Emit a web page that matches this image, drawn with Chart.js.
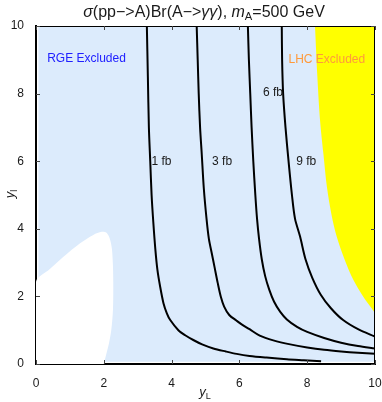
<!DOCTYPE html>
<html>
<head>
<meta charset="utf-8">
<script src="https://cdn.jsdelivr.net/npm/chart.js@4.4.0/dist/chart.umd.min.js"></script>
<style>
  body { margin: 0; background: #fff; }
  #wrap { position: relative; width: 382px; height: 402px; font-family: "Liberation Sans", Arial, sans-serif; color: #1a1a1a; }
  #plot { position: absolute; left: 0; top: 0; }
  .title { position: absolute; left: 26px; width: 356px; top: 2px; text-align: center; font-size: 16px; line-height: 19px; white-space: nowrap; }
  .xlab { position: absolute; left: 180px; width: 50px; top: 384px; text-align: center; font-size: 13px; line-height: 16px; }
  .ylab { position: absolute; left: -15px; top: 186px; width: 50px; text-align: center; font-size: 13px; line-height: 16px; transform: rotate(-90deg); }
  sub { font-size: 70%; vertical-align: -0.3em; line-height: 0; }
</style>
</head>
<body>
<div id="wrap">
  <canvas id="plot" width="382" height="402"></canvas>
  <div class="title"><i>σ</i>(pp−&gt;A)Br(A−&gt;<i>γγ</i>), <i>m</i><sub>A</sub>=500 GeV</div>
  <div class="xlab"><i>y</i><sub>L</sub></div>
  <div class="ylab"><i>y</i><sub>l</sub></div>
</div>
<script>
// axis ticks
const tickValues = [0, 2, 4, 6, 8, 10];

// contour lines (yL, yl)
const fb1X = [3.27, 3.30, 3.33, 3.37, 3.41, 3.46, 3.52, 3.58, 3.66, 3.76, 3.86, 3.96, 4.20, 4.40, 4.64, 4.90, 5.23, 5.60, 5.92, 6.30, 6.80, 7.40, 7.90, 8.41];
const fb1Y = [10, 8.5, 7.0, 6.0, 5.0, 4.2, 3.4, 2.8, 2.3, 1.8, 1.5, 1.3, 1.0, 0.85, 0.71, 0.58, 0.46, 0.37, 0.30, 0.24, 0.19, 0.14, 0.11, 0.08];

const fb3X = [4.74, 4.77, 4.80, 4.84, 4.89, 4.95, 5.03, 5.10, 5.18, 5.27, 5.36, 5.45, 5.55, 5.70, 5.92, 6.10, 6.30, 6.60, 7.00, 7.50, 8.00, 8.50, 9.00, 9.50, 10];
const fb3Y = [10, 9, 8, 7, 6.2, 5.2, 4.3, 3.7, 3.3, 2.85, 2.4, 2.0, 1.7, 1.45, 1.28, 1.15, 1.03, 0.84, 0.70, 0.58, 0.49, 0.42, 0.37, 0.33, 0.30];

const fb6X = [6.25, 6.28, 6.32, 6.36, 6.41, 6.47, 6.52, 6.58, 6.66, 6.76, 6.88, 7.02, 7.20, 7.40, 7.70, 8.00, 8.50, 9.00, 9.50, 10];
const fb6Y = [10, 9, 8, 7, 6, 5, 4.3, 3.7, 3.1, 2.6, 2.2, 1.85, 1.55, 1.32, 1.10, 0.95, 0.77, 0.63, 0.53, 0.46];

const fb9X = [7.25, 7.26, 7.29, 7.36, 7.45, 7.55, 7.64, 7.79, 7.95, 8.15, 8.40, 8.70, 9.06, 9.50, 10];
const fb9Y = [10, 9, 8, 7, 6, 5, 4.3, 3.77, 3.1, 2.55, 2.05, 1.65, 1.3, 1.03, 0.81];

const contourLabels = ['1 fb', '3 fb', '6 fb', '9 fb'];
const contourLabelX = [3.70, 5.49, 6.99, 7.97];
const contourLabelY = [6.0, 6.0, 8.02, 5.99];

// LHC excluded boundary (region to the upper right)
const lhcX = [8.23, 8.30, 8.38, 8.48, 8.58, 8.72, 8.87, 9.10, 9.36, 9.65, 9.90, 10];
const lhcY = [10, 8.5, 7.2, 6.2, 5.25, 4.4, 3.77, 3.1, 2.49, 2.0, 1.65, 1.5];

// RGE excluded area and the allowed hole in the lower left
const rgeX = [0.07, 0.07, 10, 10];
const rgeY = [0.07, 10, 10, 0.07];
const holeX = [0, 0, 0.4, 0.81, 1.3, 1.69, 1.94, 2.08, 2.18, 2.24, 2.27, 2.28, 2.27, 2.22, 2.15, 2.08, 2.0];
const holeY = [0, 2.43, 2.8, 3.17, 3.57, 3.82, 3.91, 3.88, 3.7, 3.4, 2.9, 2.3, 1.6, 1.0, 0.6, 0.32, 0];

const regionLabels = ['RGE Excluded', 'LHC Excluded'];
const regionLabelX = [1.49, 8.58];
const regionLabelY = [9.02, 8.99];

const FONT = '"Liberation Sans", Arial, sans-serif';

function pts(xs, ys) {
    return xs.map((x, i) => ({ x: x, y: ys[i] }));
}

function contour(xs, ys) {
    return {
        data: pts(xs, ys),
        borderColor: '#000',
        borderWidth: 2,
        pointRadius: 0,
        tension: 0.3,
        fill: false,
        order: 0
    };
}

function region(xs, ys, color, fill, order, tension) {
    return {
        data: pts(xs, ys),
        borderColor: 'rgba(0,0,0,0)',
        borderWidth: 0,
        backgroundColor: color,
        pointRadius: 0,
        tension: tension,
        fill: fill,
        order: order
    };
}

const decorations = {
    id: 'decorations',
    afterDatasetsDraw(chart) {
        const { ctx, chartArea: a, scales: { x, y } } = chart;
        ctx.save();
        // thin top and right frame
        ctx.strokeStyle = '#000';
        ctx.lineWidth = 1;
        ctx.beginPath();
        ctx.moveTo(a.left, a.top + 0.5);
        ctx.lineTo(a.right, a.top + 0.5);
        ctx.moveTo(a.right - 0.5, a.top);
        ctx.lineTo(a.right - 0.5, a.bottom);
        ctx.stroke();
        // inward tick marks
        ctx.strokeStyle = '#444';
        ctx.beginPath();
        tickValues.forEach(v => {
            const px = Math.round(x.getPixelForValue(v)) + 0.5;
            const py = Math.round(y.getPixelForValue(v)) + 0.5;
            ctx.moveTo(px, a.bottom); ctx.lineTo(px, a.bottom - 4);
            ctx.moveTo(px, a.top); ctx.lineTo(px, a.top + 4);
            ctx.moveTo(a.left, py); ctx.lineTo(a.left + 4, py);
            ctx.moveTo(a.right, py); ctx.lineTo(a.right - 4, py);
        });
        ctx.stroke();
        // contour labels
        ctx.font = '12px ' + FONT;
        ctx.textAlign = 'center';
        ctx.textBaseline = 'middle';
        ctx.fillStyle = '#1a1a1a';
        contourLabels.forEach((t, i) => {
            ctx.fillText(t, x.getPixelForValue(contourLabelX[i]), y.getPixelForValue(contourLabelY[i]));
        });
        // region labels
        const regionColors = ['#2020ff', '#ff9a3c'];
        regionLabels.forEach((t, i) => {
            ctx.fillStyle = regionColors[i];
            ctx.fillText(t, x.getPixelForValue(regionLabelX[i]), y.getPixelForValue(regionLabelY[i]));
        });
        ctx.restore();
    }
};

new Chart(document.getElementById('plot'), {
    type: 'line',
    data: {
        datasets: [
            contour(fb1X, fb1Y),
            contour(fb3X, fb3Y),
            contour(fb6X, fb6Y),
            contour(fb9X, fb9Y),
            region(lhcX, lhcY, '#ffff00', 'end', 1, 0.3),
            region(holeX, holeY, '#ffffff', 'shape', 1, 0.3),
            region(rgeX, rgeY, '#dcebfc', 'shape', 2, 0)
        ]
    },
    options: {
        responsive: false,
        animation: false,
        layout: {
            autoPadding: false,
            padding: { top: 26, right: 7, bottom: 0, left: 0 }
        },
        plugins: {
            legend: { display: false },
            tooltip: { enabled: false }
        },
        scales: {
            x: {
                type: 'linear',
                min: 0,
                max: 10,
                grid: { display: false },
                border: { display: true, color: '#000', width: 2 },
                ticks: {
                    stepSize: 2,
                    padding: 4,
                    maxRotation: 0,
                    color: '#1a1a1a',
                    font: { family: FONT, size: 12 }
                },
                afterFit(s) {
                    s.height = 38;
                    s.paddingLeft = 0;
                    s.paddingRight = 0;
                }
            },
            y: {
                type: 'linear',
                min: 0,
                max: 10,
                grid: { display: false },
                border: { display: true, color: '#000', width: 2 },
                ticks: {
                    stepSize: 2,
                    padding: 4,
                    color: '#1a1a1a',
                    font: { family: FONT, size: 12 }
                },
                afterFit(s) {
                    s.width = 36;
                    s.paddingTop = 0;
                    s.paddingBottom = 0;
                }
            }
        }
    },
    plugins: [decorations]
});
</script>
</body>
</html>
